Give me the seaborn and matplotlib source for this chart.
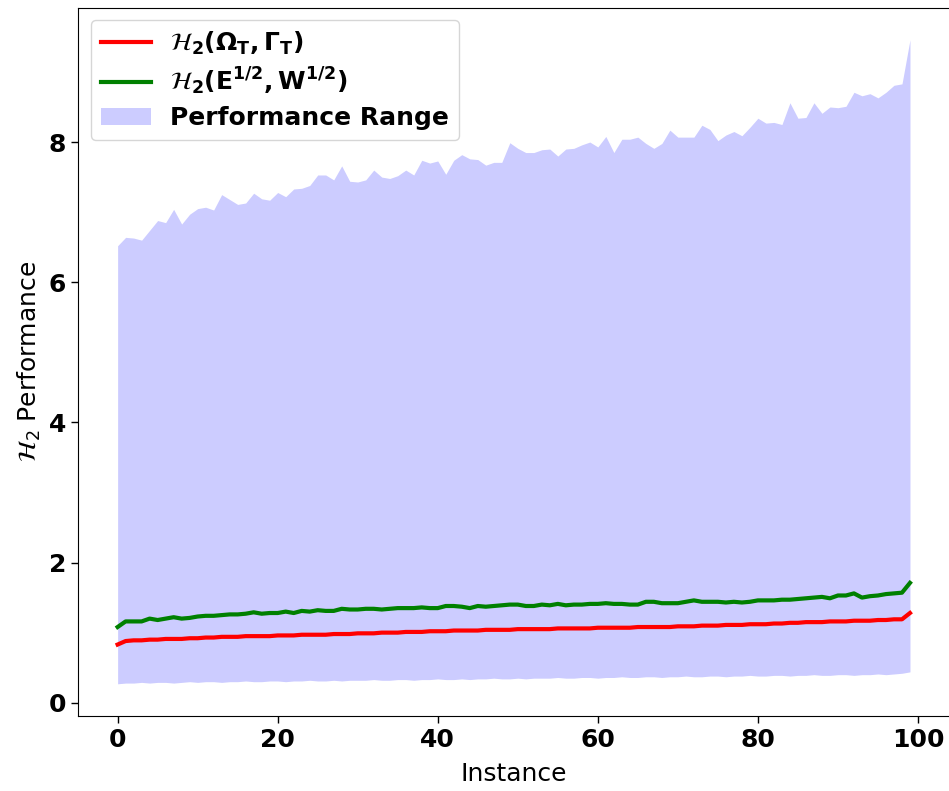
import numpy as np
import pandas as pd
import matplotlib
matplotlib.use("Agg")
import matplotlib.pyplot as plt
import seaborn as sns

instances = list(range(100))

upper = [6.52,6.64,6.63,6.60,6.74,6.88,6.85,7.04,6.83,6.97,
         7.05,7.07,7.03,7.25,7.18,7.11,7.13,7.27,7.19,7.17,
         7.28,7.22,7.33,7.34,7.38,7.53,7.53,7.46,7.66,7.44,
         7.43,7.46,7.60,7.50,7.48,7.52,7.60,7.53,7.74,7.70,
         7.73,7.54,7.74,7.82,7.76,7.75,7.67,7.71,7.71,7.99,
         7.91,7.85,7.85,7.89,7.90,7.80,7.90,7.91,7.96,8.00,
         7.93,8.08,7.85,8.04,8.04,8.07,7.98,7.91,7.98,8.17,
         8.07,8.07,8.07,8.24,8.18,8.02,8.10,8.15,8.09,8.21,
         8.34,8.27,8.28,8.25,8.56,8.34,8.35,8.56,8.41,8.50,
         8.49,8.51,8.71,8.66,8.69,8.63,8.71,8.81,8.83,9.46]

lower = [0.27,0.28,0.28,0.29,0.28,0.29,0.29,0.28,0.29,0.30,
         0.29,0.30,0.30,0.29,0.30,0.30,0.31,0.30,0.30,0.31,
         0.31,0.30,0.31,0.31,0.32,0.31,0.31,0.32,0.31,0.32,
         0.32,0.32,0.33,0.32,0.32,0.33,0.33,0.32,0.33,0.33,
         0.34,0.33,0.33,0.34,0.33,0.34,0.34,0.35,0.34,0.34,
         0.35,0.34,0.35,0.35,0.35,0.36,0.35,0.35,0.36,0.36,
         0.35,0.36,0.36,0.37,0.36,0.36,0.37,0.37,0.36,0.37,
         0.37,0.38,0.37,0.37,0.38,0.38,0.37,0.38,0.38,0.39,
         0.38,0.38,0.39,0.39,0.38,0.39,0.39,0.40,0.39,0.39,
         0.40,0.40,0.39,0.40,0.40,0.41,0.40,0.41,0.42,0.44]

h2_omega_gamma = [0.83,0.88,0.89,0.89,0.90,0.90,0.91,0.91,0.91,0.92,
                  0.92,0.93,0.93,0.94,0.94,0.94,0.95,0.95,0.95,0.95,
                  0.96,0.96,0.96,0.97,0.97,0.97,0.97,0.98,0.98,0.98,
                  0.99,0.99,0.99,1.00,1.00,1.00,1.01,1.01,1.01,1.02,
                  1.02,1.02,1.03,1.03,1.03,1.03,1.04,1.04,1.04,1.04,
                  1.05,1.05,1.05,1.05,1.05,1.06,1.06,1.06,1.06,1.06,
                  1.07,1.07,1.07,1.07,1.07,1.08,1.08,1.08,1.08,1.08,
                  1.09,1.09,1.09,1.10,1.10,1.10,1.11,1.11,1.11,1.12,
                  1.12,1.12,1.13,1.13,1.14,1.14,1.15,1.15,1.15,1.16,
                  1.16,1.16,1.17,1.17,1.17,1.18,1.18,1.19,1.19,1.28]

h2_ew = [1.08,1.16,1.16,1.16,1.20,1.18,1.20,1.22,1.20,1.21,
         1.23,1.24,1.24,1.25,1.26,1.26,1.27,1.29,1.27,1.28,
         1.28,1.30,1.28,1.31,1.30,1.32,1.31,1.31,1.34,1.33,
         1.33,1.34,1.34,1.33,1.34,1.35,1.35,1.35,1.36,1.35,
         1.35,1.38,1.38,1.37,1.35,1.38,1.37,1.38,1.39,1.40,
         1.40,1.38,1.38,1.40,1.39,1.41,1.39,1.40,1.40,1.41,
         1.41,1.42,1.41,1.41,1.40,1.40,1.44,1.44,1.42,1.42,
         1.42,1.44,1.46,1.44,1.44,1.44,1.43,1.44,1.43,1.44,
         1.46,1.46,1.46,1.47,1.47,1.48,1.49,1.50,1.51,1.49,
         1.53,1.53,1.56,1.50,1.52,1.53,1.55,1.56,1.57,1.71]

label_red = r'$\mathcal{H}_{\mathbf{2}}\mathbf{(\Omega_T, \Gamma_T)}$'
label_green = r'$\mathcal{H}_{\mathbf{2}}\mathbf{(E^{1/2}, W^{1/2})}$'
label_fill = 'Performance Range'

df = pd.DataFrame({"Instance": instances, "red": h2_omega_gamma, "green": h2_ew,
                   "lower": lower, "upper": upper})

fig = plt.figure(figsize=(9.49, 7.91), dpi=100)
ax = fig.add_axes([78/949, (791-716)/791, 871.6/949, (716-7.5)/791])

sns.lineplot(data=df, x="Instance", y="red", color="red", linewidth=3,
             label=label_red, ax=ax)
sns.lineplot(data=df, x="Instance", y="green", color="green", linewidth=3,
             label=label_green, ax=ax)
ax.fill_between(df["Instance"], df["lower"], df["upper"], color="blue",
                alpha=0.2, linewidth=0, label=label_fill)

ax.set_xlabel("Instance", fontsize=18, labelpad=7)
ax.set_ylabel(r'$\mathcal{H}_2$ Performance', fontsize=18)
ax.set_xticks([0, 20, 40, 60, 80, 100])
ax.set_yticks([0, 2, 4, 6, 8])
ax.tick_params(axis="both", labelsize=18, length=5, width=1)
for lab in ax.get_xticklabels() + ax.get_yticklabels():
    lab.set_fontweight("bold")
ax.margins(x=0.05, y=0.05)

ax.legend(loc="upper left", prop={"size": 18, "weight": "bold"},
          labelspacing=0.35)

fig.savefig("out.png", dpi=100)
